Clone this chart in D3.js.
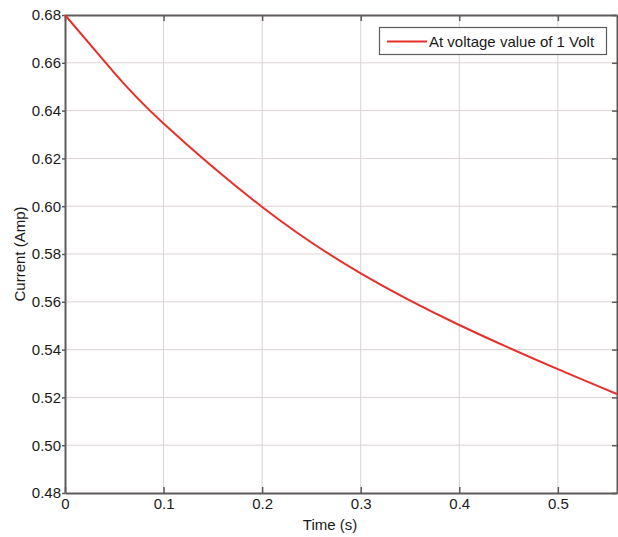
<!DOCTYPE html>
<html>
<head>
<meta charset="utf-8">
<script src="https://cdn.jsdelivr.net/npm/d3@7"></script>
<style>
html,body{margin:0;padding:0;background:#fff;}
svg text{font-family:"Liberation Sans",Arial,sans-serif;fill:#1a1a1a;}
</style>
</head>
<body>
<svg id="chart" width="618" height="537"></svg>
<script>
const timeValues = [0, 0.05, 0.1, 0.2, 0.3, 0.4, 0.5, 0.56];
const currentValues = [0.68, 0.6558, 0.6346, 0.5997, 0.5719, 0.5503, 0.5318, 0.5214];
const xTicks = [0, 0.1, 0.2, 0.3, 0.4, 0.5];
const yTicks = [0.48, 0.50, 0.52, 0.54, 0.56, 0.58, 0.60, 0.62, 0.64, 0.66, 0.68];
const seriesName = "At voltage value of 1 Volt";
const xTitle = "Time (s)";
const yTitle = "Current (Amp)";

const svg = d3.select("#chart");
const L = 65, R = 617, T = 15, B = 493;
const x = d3.scaleLinear().domain([0, 0.56]).range([L, R]);
const y = d3.scaleLinear().domain([0.48, 0.68]).range([B, T]);

// grid
svg.append("g").selectAll("line").data(xTicks.slice(1)).join("line")
  .attr("x1", d => x(d)).attr("x2", d => x(d)).attr("y1", T).attr("y2", B)
  .attr("stroke", "#ddd3d3").attr("stroke-width", 1);
svg.append("g").selectAll("line").data(yTicks.slice(1, -1)).join("line")
  .attr("x1", L).attr("x2", R).attr("y1", d => y(d)).attr("y2", d => y(d))
  .attr("stroke", "#ddd3d3").attr("stroke-width", 1);

// axes
const axStyle = g => {
  g.select(".domain").attr("stroke", "#5e5a5a").attr("stroke-width", 2);
  g.selectAll(".tick line").attr("stroke", "#5e5a5a").attr("stroke-width", 1.5);
  g.selectAll("text").style("font-size", "15px").attr("fill", "#1a1a1a");
};
svg.append("g").attr("transform", `translate(0,${B})`)
  .call(d3.axisBottom(x).tickValues(xTicks).tickFormat(d3.format("")).tickSizeInner(-6).tickSizeOuter(0).tickPadding(5))
  .call(axStyle);
svg.append("g").attr("transform", `translate(0,${T})`)
  .call(d3.axisTop(x).tickValues(xTicks).tickFormat("").tickSizeInner(-6).tickSizeOuter(0))
  .call(axStyle);
svg.append("g").attr("transform", `translate(${L},0)`)
  .call(d3.axisLeft(y).tickValues(yTicks).tickFormat(d3.format(".2f")).tickSizeInner(3).tickSizeOuter(0).tickPadding(1))
  .call(axStyle);
svg.append("g").attr("transform", `translate(${R},0)`)
  .call(d3.axisRight(y).tickValues(yTicks).tickFormat("").tickSizeInner(-5).tickSizeOuter(0))
  .call(axStyle);

// line
const data = timeValues.map((t, i) => ({t, v: currentValues[i]}));
svg.append("path").datum(data)
  .attr("fill", "none").attr("stroke", "#e8302a").attr("stroke-width", 2)
  .attr("d", d3.line().x(d => x(d.t)).y(d => y(d.v)).curve(d3.curveNatural));

// legend
const lg = svg.append("g");
lg.append("rect").attr("x", 379.5).attr("y", 27.5).attr("width", 227).attr("height", 27)
  .attr("fill", "#fff").attr("stroke", "#5e5a5a").attr("stroke-width", 1.2);
lg.append("line").attr("x1", 387).attr("x2", 427).attr("y1", 41.5).attr("y2", 41.5)
  .attr("stroke", "#e8302a").attr("stroke-width", 2);
lg.append("text").attr("x", 429).attr("y", 46.5).style("font-size", "15px").text(seriesName);

// titles
svg.append("text").attr("x", 330).attr("y", 530).attr("text-anchor", "middle")
  .style("font-size", "15px").text(xTitle);
svg.append("text").attr("transform", `translate(25,${(T + B) / 2}) rotate(-90)`)
  .attr("text-anchor", "middle").style("font-size", "15px").text(yTitle);
</script>
</body>
</html>
